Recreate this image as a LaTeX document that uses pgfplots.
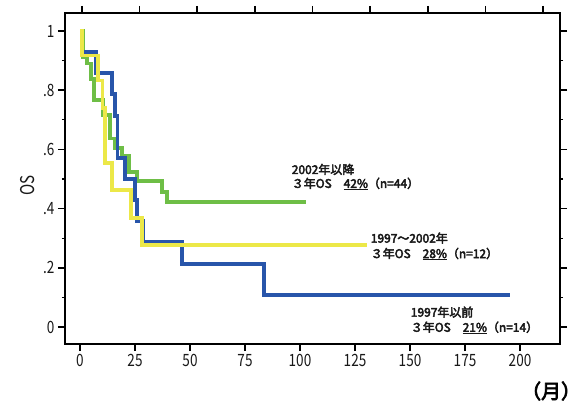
\documentclass[border=0pt]{standalone}
\usepackage{pgfplots}
\pgfplotsset{compat=1.18}
\usepackage{graphicx}
\usepackage{fontspec}
\setmainfont{Noto Sans CJK JP}[AutoFakeBold=3.5]
\definecolor{kmblue}{RGB}{40,85,170}
\definecolor{kmgreen}{RGB}{110,190,70}
\definecolor{kmyellow}{RGB}{236,232,72}
\definecolor{txt}{RGB}{25,25,25}
\newcommand{\cn}[1]{\scalebox{0.8}[1]{#1}}
\begin{document}
\begin{tikzpicture}[x=1bp,y=1bp]
\useasboundingbox (-65,-63) rectangle (522,344);
\begin{axis}[
  at={(0,0)}, anchor=south west, scale only axis,
  width=495bp, height=331bp,
  xmin=-6.818, xmax=218.18, ymin=-0.0574, ymax=1.0608,
  axis line style={line width=1.6bp, black},
  xtick={0,25,50,75,100,125,150,175,200},
  xticklabels={\cn{0},\cn{25},\cn{50},\cn{75},\cn{100},\cn{125},\cn{150},\cn{175},\cn{200}},
  xtick pos=bottom,
  ytick={0,0.2,0.4,0.6,0.8,1},
  yticklabels={\cn{0},\cn{.2},\cn{.4},\cn{.6},\cn{.8},\cn{1}},
  minor ytick={0.1,0.3,0.5,0.7,0.9},
  ytick pos=both, yticklabel pos=left,
  tick align=outside,
  major tick length=7bp, minor tick length=3bp,
  major tick style={line width=1.6bp, black},
  minor tick style={line width=1.2bp, black},
  tick label style={font=\fontsize{17}{17}\selectfont, text=txt},
  ylabel={\cn{OS}},
  ylabel style={font=\fontsize{19}{19}\selectfont, text=txt, at={(axis description cs:-0.075,0.48)}, anchor=center},
  xlabel={\bfseries （月）},
  xlabel style={font=\fontsize{20}{20}\selectfont, text=black, at={(axis description cs:0.982,-0.142)}, anchor=center},
]
\addplot[kmgreen, line width=3.8bp, const plot, mark=none] coordinates {
(0,1) (1.5,0.913) (3,0.89) (4.9,0.837) (6.5,0.767) (10.5,0.716) (13.6,0.637)
(15.9,0.604) (19.2,0.579) (22.3,0.523) (25.8,0.494) (37.1,0.457) (39.7,0.423) (102.6,0.423)};
\addplot[kmblue, line width=3.8bp, const plot, mark=none] coordinates {
(0,1) (0.8,0.929) (7.3,0.857) (14.4,0.786) (16,0.714) (17,0.571) (20.5,0.5)
(25,0.429) (26,0.357) (28.8,0.286) (46.5,0.214) (83.8,0.107) (195.5,0.107)};
\addplot[kmyellow, line width=3.8bp, const plot, mark=none] coordinates {
(0,1) (1,0.917) (8.3,0.833) (10.2,0.74) (11.2,0.555) (14.4,0.463)
(23.2,0.367) (28,0.276) (130.3,0.276)};
\begin{scope}[every node/.style={anchor=base west, inner sep=0pt, font=\fontsize{12}{12}\selectfont\bfseries, text=txt}]
\node at (axis cs:96.2,0.517) {2002年以降};
\node at (axis cs:96.2,0.470) {３年OS　\underline{42\%}（n=44）};
\node at (axis cs:132.1,0.285) {1997～2002年};
\node at (axis cs:132.1,0.233) {３年OS　\underline{28\%}（n=12）};
\node at (axis cs:150.3,0.035) {1997年以前};
\node at (axis cs:150.3,-0.016) {３年OS　\underline{21\%}（n=14）};
\end{scope}
\end{axis}
\begin{axis}[
  at={(0,0)}, anchor=south west, scale only axis,
  width=495bp, height=331bp,
  xmin=-6.818, xmax=218.18, ymin=-0.0574, ymax=1.0608,
  hide y axis, axis x line*=top,
  axis line style={line width=1.6bp, black, -},
  xtick={0.9,27.1,53.3,79.5,105.7,131.9,158.1,184.3,210.5},
  xticklabels={},
  tick align=outside, major tick length=7bp,
  major tick style={line width=1.6bp, black},
]
\end{axis}
\end{tikzpicture}
\end{document}
